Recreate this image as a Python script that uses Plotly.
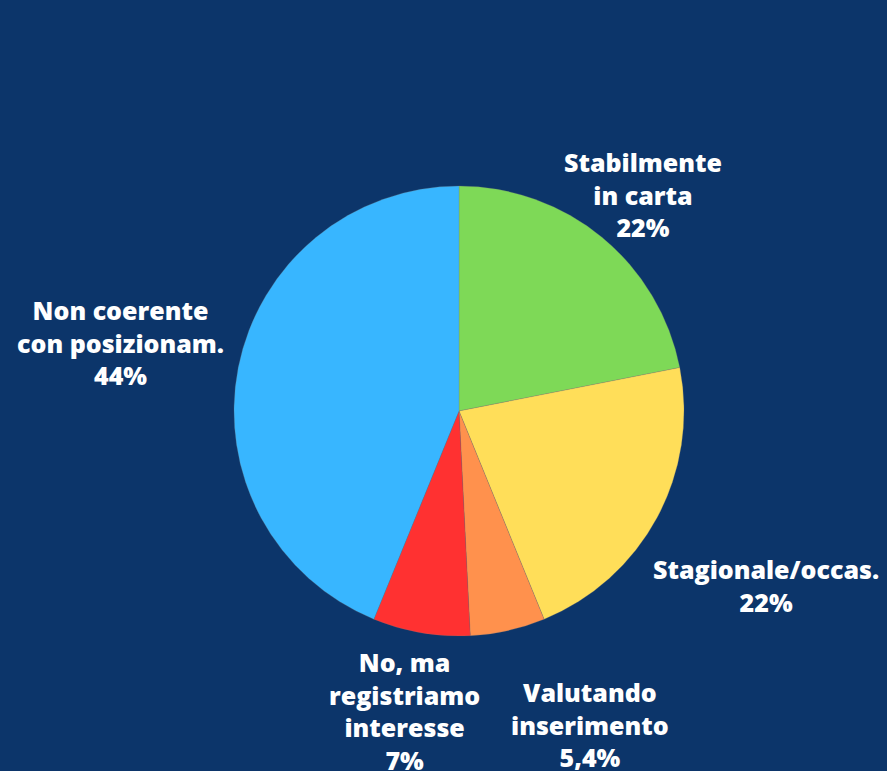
import plotly.graph_objects as go

# dati della torta (in senso orario da ore 12)
categorie = ['Stabilmente in carta', 'Stagionale/occas.', 'Valutando inserimento',
             'No, ma registriamo interesse', 'Non coerente con posizionam.']
valori = [22, 22, 5.4, 7, 44]
etichette = ['Stabilmente<br>in carta<br>22%', 'Stagionale/occas.<br>22%',
             'Valutando<br>inserimento<br>5,4%', 'No, ma<br>registriamo<br>interesse<br>7%',
             'Non coerente<br>con posizionam.<br>44%']
colori = ['#7ED957', '#FFDE59', '#FF914D', '#FF3131', '#38B6FF']

# posizione delle etichette in pixel (x centro, y centro prima riga)
pos_etichette = [(643, 160), (766, 567), (590, 690), (404, 660), (120, 308)]

W, H = 887, 771
BG = '#0C356A'
FS = 25

fig = go.Figure(go.Pie(
    labels=categorie, values=valori, sort=False, direction='clockwise', rotation=0,
    marker=dict(colors=colori, line=dict(width=0.5, color='rgba(120,120,120,0.5)')),
    textinfo='none', hoverinfo='label+percent', showlegend=False,
    domain=dict(x=[(459 - 225) / W, (459 + 225) / W], y=[(771 - 636) / H, (771 - 186) / H]),
))

for testo, (px, py) in zip(etichette, pos_etichette):
    fig.add_annotation(
        text=testo, x=px / W, y=1 - (py - 17) / H, xref='paper', yref='paper',
        xanchor='center', yanchor='top', showarrow=False, align='center',
        font=dict(family='Open Sans', size=FS, color='white', weight=800),
    )

fig.update_layout(
    width=W, height=H, margin=dict(l=0, r=0, t=0, b=0),
    paper_bgcolor=BG, plot_bgcolor=BG,
)
fig.write_html('out.html', config={'displayModeBar': False},
               post_script="document.body.style.margin='0';document.body.style.background='" + BG + "';")
